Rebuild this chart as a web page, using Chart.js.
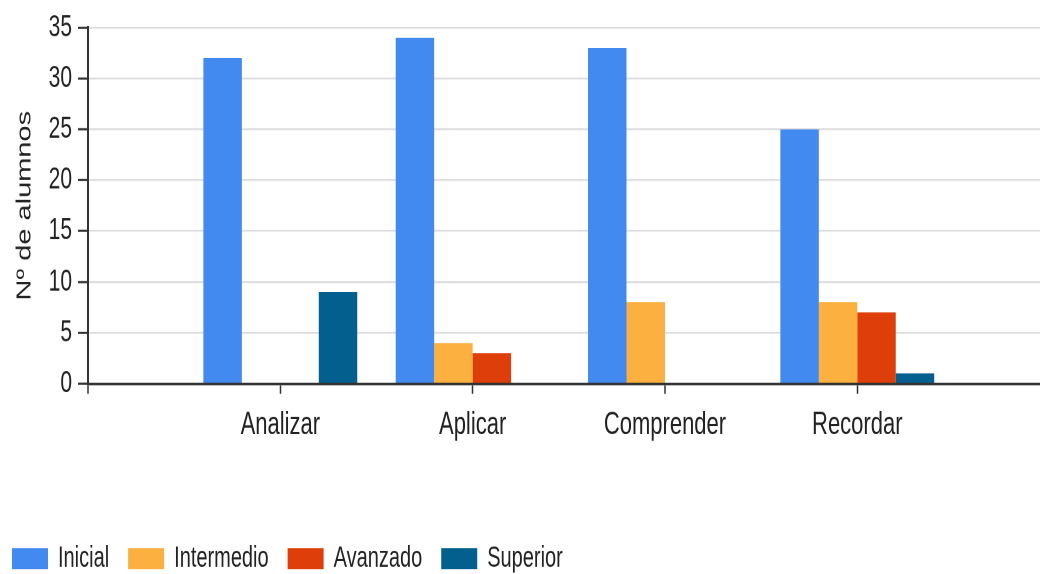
<!DOCTYPE html>
<html>
<head>
<meta charset="utf-8">
<script src="https://cdn.jsdelivr.net/npm/chart.js@4/dist/chart.umd.min.js"></script>
<style>
    html, body { margin: 0; padding: 0; background: #fff; overflow: hidden; }
    #wrap { width: 1040px; height: 574px; overflow: hidden; }
    /* the reference is stretched vertically, so the canvas is too */
    #alumnosChart { transform: scaleY(1.4495); transform-origin: 0 0; }
</style>
</head>
<body>
<div id="wrap"><canvas id="alumnosChart" width="1040" height="396"></canvas></div>
<script>
// categories and values
const categories = ['Analizar', 'Aplicar', 'Comprender', 'Recordar'];
const inicial    = [32, 34, 33, 25];
const intermedio = [0, 4, 8, 8];
const avanzado   = [0, 3, 0, 7];
const superior   = [9, 0, 0, 1];

const fontFamily = "'Liberation Sans', Arial, sans-serif";
const textColor = '#222';

// turn a value list into {x, y} points on the numeric category axis
function toPoints(values) {
    return values.map((v, i) => ({ x: i + 1, y: v }));
}

const ctx = document.getElementById('alumnosChart').getContext('2d');
const alumnosChart = new Chart(ctx, {
    type: 'bar',
    data: {
        datasets: [
            { label: 'Inicial', data: toPoints(inicial), backgroundColor: '#4289F0' },
            { label: 'Intermedio', data: toPoints(intermedio), backgroundColor: '#FBB040' },
            { label: 'Avanzado', data: toPoints(avanzado), backgroundColor: '#DE3F0A' },
            { label: 'Superior', data: toPoints(superior), backgroundColor: '#03608E' }
        ]
    },
    options: {
        responsive: false,
        devicePixelRatio: 2,
        animation: false,
        categoryPercentage: 0.8,
        barPercentage: 1.0,
        layout: {
            padding: { left: -7, right: 0, top: 19, bottom: -9.4 }
        },
        plugins: {
            tooltip: { enabled: false },
            legend: {
                position: 'bottom',
                align: 'start',
                labels: {
                    boxWidth: 36,
                    boxHeight: 14.5,
                    padding: 19,
                    color: textColor,
                    font: { family: fontFamily, size: 20 }
                }
            }
        },
        scales: {
            x: {
                type: 'linear',
                min: 0,
                max: 4.95,
                offset: false,
                afterFit: function (scale) { scale.height = 91.7; },
                ticks: {
                    stepSize: 1,
                    includeBounds: false,
                    autoSkip: false,
                    maxRotation: 0,
                    padding: 8.5,
                    color: textColor,
                    font: { family: fontFamily, size: 22 },
                    callback: function (value) {
                        return categories[value - 1] || '';
                    }
                },
                grid: {
                    offset: false,
                    drawOnChartArea: false,
                    drawTicks: true,
                    tickLength: 7,
                    tickColor: '#333',
                    tickWidth: 1.5
                },
                border: { color: '#333', width: 1.8 }
            },
            y: {
                min: 0,
                max: 35,
                afterFit: function (scale) { scale.width = 95; },
                ticks: {
                    stepSize: 5,
                    padding: 6,
                    color: textColor,
                    font: { family: fontFamily, size: 21 }
                },
                title: {
                    display: true,
                    text: 'Nº de alumnos',
                    color: textColor,
                    font: { family: fontFamily, size: 20 },
                    padding: { top: 20, bottom: 0 }
                },
                grid: {
                    color: '#dcdcdc',
                    lineWidth: 1.3,
                    tickLength: 10,
                    tickColor: '#333',
                    tickWidth: 1.5
                },
                border: { color: '#333', width: 2 }
            }
        }
    }
});
</script>
</body>
</html>
